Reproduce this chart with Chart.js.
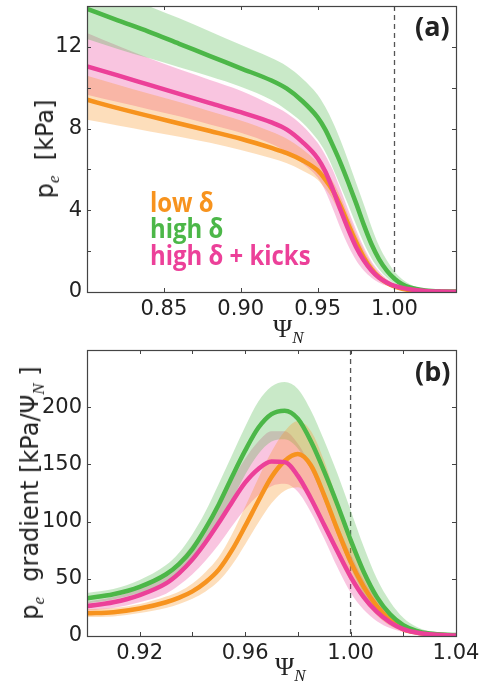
<!DOCTYPE html>
<html>
<head>
<meta charset="utf-8">
<script src="https://cdn.jsdelivr.net/npm/chart.js@4.4.1/dist/chart.umd.min.js"></script>
<style>
  body { margin: 0; background: #fff; width: 482px; height: 688px; position: relative; overflow: hidden; }
  canvas { position: absolute; left: 0; }
  .txt { position: absolute; white-space: nowrap; color: #222; line-height: 1; }
  .ytitle { font-family: 'DejaVu Sans'; font-size: 24px; transform: translate(-50%, -50%) rotate(-90deg); }
  .ysub { font-family: 'Liberation Serif'; font-style: italic; font-size: 17px; position: relative; top: 6px; }
  .xtitle { font-family: 'Liberation Serif'; font-size: 26px; }
  .xsub { font-family: 'Liberation Serif'; font-style: italic; font-size: 17px; position: relative; top: 6px; }
  .leg { font-family: 'Open Sans'; font-weight: bold; font-size: 26px; transform: scaleX(0.92); transform-origin: left center; }
  .tag { font-family: 'Open Sans'; font-weight: bold; font-size: 27px; }
</style>
</head>
<body>
<canvas id="chart-a" width="482" height="344" style="top:0"></canvas>
<canvas id="chart-b" width="482" height="344" style="top:344px"></canvas>

<div class="txt ytitle" style="left:45px; top:149px;">p<span class="ysub">e</span>&nbsp;&nbsp;[kPa]</div>
<div class="txt ytitle" style="left:30px; top:493px;">p<span class="ysub">e</span>&nbsp;&nbsp;gradient [kPa/&Psi;<span class="ysub">N</span>&nbsp;]</div>
<div class="txt xtitle" style="left:273px; top:316px;">&Psi;<span class="xsub">N</span></div>
<div class="txt xtitle" style="left:275px; top:654px;">&Psi;<span class="xsub">N</span></div>

<div class="txt leg" style="left:150px; top:189px; color:#f7931e;">low δ</div>
<div class="txt leg" style="left:150px; top:215px; color:#4cb748;">high δ</div>
<div class="txt leg" style="left:150px; top:242px; color:#ec4099;">high δ + kicks</div>

<div class="txt tag" style="left:415px; top:12px;">(a)</div>
<div class="txt tag" style="left:415px; top:357px;">(b)</div>

<script>
// ---- panel (a): p_e profile ----
const psiA = [0.80, 0.82, 0.84, 0.86, 0.88, 0.90, 0.92, 0.93, 0.94, 0.95, 0.955, 0.96, 0.965, 0.97, 0.975, 0.98, 0.985, 0.99, 0.995, 1.00, 1.005, 1.01, 1.02, 1.03, 1.04];
const lowA    = [9.41, 9.0, 8.62, 8.25, 7.88, 7.5, 7.05, 6.8, 6.45, 5.95, 5.5, 4.95, 4.2, 3.3, 2.45, 1.7, 1.12, 0.72, 0.45, 0.27, 0.16, 0.09, 0.03, 0.01, 0];
const lowAUp  = [10.59, 10.15, 9.72, 9.3, 8.85, 8.4, 7.85, 7.5, 7.0, 6.35, 5.95, 5.4, 4.65, 3.75, 2.85, 2.05, 1.4, 0.9, 0.57, 0.36, 0.22, 0.13, 0.04, 0.01, 0];
const lowALo  = [8.43, 8.15, 7.87, 7.6, 7.3, 6.95, 6.55, 6.3, 5.95, 5.5, 5.05, 4.5, 3.75, 2.9, 2.1, 1.42, 0.9, 0.55, 0.33, 0.19, 0.11, 0.06, 0.02, 0.01, 0];
const highA   = [13.86, 13.3, 12.75, 12.15, 11.55, 10.95, 10.35, 9.95, 9.35, 8.55, 7.95, 7.15, 6.3, 5.35, 4.35, 3.3, 2.35, 1.6, 1.05, 0.65, 0.38, 0.22, 0.08, 0.03, 0.02];
const highAUp = [15.3, 14.65, 14.0, 13.4, 12.75, 12.1, 11.45, 11.05, 10.45, 9.65, 9.05, 8.3, 7.4, 6.4, 5.35, 4.3, 3.2, 2.25, 1.55, 1.0, 0.62, 0.38, 0.14, 0.05, 0.02];
const highALo = [12.38, 11.9, 11.45, 11.0, 10.55, 10.05, 9.4, 8.9, 8.3, 7.45, 6.85, 6.05, 5.15, 4.25, 3.3, 2.4, 1.65, 1.1, 0.7, 0.42, 0.24, 0.13, 0.04, 0.01, 0];
const kickA   = [11.04, 10.6, 10.15, 9.7, 9.25, 8.8, 8.3, 7.95, 7.35, 6.55, 5.9, 5.0, 4.0, 3.05, 2.2, 1.55, 1.05, 0.7, 0.47, 0.3, 0.2, 0.13, 0.05, 0.02, 0.01];
const kickAUp = [12.68, 12.05, 11.45, 10.9, 10.38, 9.85, 9.15, 8.75, 8.15, 7.3, 6.7, 5.95, 5.0, 4.0, 3.05, 2.2, 1.5, 1.0, 0.65, 0.42, 0.28, 0.18, 0.07, 0.03, 0.02];
const kickALo = [9.66, 9.3, 8.95, 8.6, 8.2, 7.8, 7.25, 6.85, 6.3, 5.6, 4.95, 4.05, 3.1, 2.25, 1.55, 1.05, 0.7, 0.45, 0.3, 0.18, 0.11, 0.07, 0.02, 0.01, 0];
const xMarksA  = [0.85, 0.90, 0.95, 1.00];
const xLabelsA = [0.85, 0.90, 0.95, 1.00];
const yMarksA  = [0, 2, 4, 6, 8, 10, 12, 14];
const yLabelsA = [0, 4, 8, 12];

// ---- panel (b): p_e gradient ----
const psiB = [0.90, 0.91, 0.92, 0.93, 0.935, 0.94, 0.945, 0.95, 0.955, 0.96, 0.965, 0.97, 0.975, 0.98, 0.985, 0.99, 0.995, 1.00, 1.005, 1.01, 1.015, 1.02, 1.025, 1.03, 1.04];
const lowB    = [19.8, 20.8, 24, 29.5, 33.5, 39, 47, 58, 75, 96, 118, 139, 153, 159, 149, 123, 93, 65, 43, 26, 14, 6, 3, 1.5, 0.5];
const lowBUp  = [23.5, 24.5, 28, 34.5, 39, 46, 56, 69, 89, 113, 138, 161, 179, 188, 179, 153, 118, 85, 56, 34, 19, 9, 4.5, 2, 0.7];
const lowBLo  = [16.5, 17, 20, 24.5, 28, 32.5, 39, 48, 62, 80, 99, 116, 127, 130, 119, 96, 70, 48, 31, 18, 9, 4, 2, 1, 0.3];
const highB   = [33, 36.5, 43, 54, 63, 76, 94, 115, 139, 162, 182, 194, 197, 190, 170, 144, 115, 84, 56, 34, 19, 9.5, 4.5, 2.2, 0.8];
const highBUp = [37.5, 41, 49, 62, 73, 89, 109, 133, 158, 183, 205, 218, 222, 216, 197, 171, 142, 110, 78, 50, 30, 16, 8, 4, 1.5];
const highBLo = [28.5, 32, 37.5, 46, 53.5, 64, 79, 97, 119, 141, 159, 170, 172, 164, 145, 118, 88, 60, 37, 20, 10, 4.5, 2, 1, 0.3];
const kickB   = [26.2, 29.5, 35.8, 46, 55, 67, 82, 99, 117, 134, 146, 152.5, 152, 140, 120, 97, 74, 52, 34, 21, 12, 6, 3, 1.5, 0.5];
const kickBUp = [30, 34, 42, 55, 66, 80, 97, 116, 136, 155, 170, 179, 179, 168, 148, 123, 97, 72, 49, 31, 18, 9, 4.5, 2, 0.7];
const kickBLo = [22, 24.5, 29.5, 37, 44.5, 54, 66, 80, 96, 111, 123, 131, 133, 126, 108, 85, 60, 38, 23, 13, 7, 3.5, 1.5, 0.8, 0.3];
const xMarksB  = [0.92, 0.94, 0.96, 0.98, 1.00, 1.02, 1.04];
const xLabelsB = [0.92, 0.96, 1.00, 1.04];
const yMarksB  = [0, 50, 100, 150, 200, 250];
const yLabelsB = [0, 50, 100, 150, 200];

const separatrix = 1.00;

const ORANGE = [247, 147, 30];
const GREEN = [76, 183, 72];
const PINK = [236, 64, 153];

const rgba = (c, a) => `rgba(${c[0]},${c[1]},${c[2]},${a})`;
const pts = (xs, ys) => xs.map((x, i) => ({ x: x, y: ys[i] }));
const has = (list, v) => list.some(l => Math.abs(l - v) < 1e-9);

function buildDatasets(xs, series) {
    const sets = [];
    // shaded uncertainty bands first: upper fills down to the lower one
    series.forEach(s => {
        sets.push({
            data: pts(xs, s.up), borderWidth: 0, borderColor: 'transparent', pointRadius: 0,
            cubicInterpolationMode: 'monotone', fill: '+1', backgroundColor: rgba(s.color, 0.3), order: 10
        });
        sets.push({
            data: pts(xs, s.lo), borderWidth: 0, borderColor: 'transparent', pointRadius: 0,
            cubicInterpolationMode: 'monotone', fill: false, order: 10
        });
    });
    series.forEach(s => {
        sets.push({
            data: pts(xs, s.mid), borderWidth: 4.5, borderColor: rgba(s.color, 1), pointRadius: 0,
            cubicInterpolationMode: 'monotone', fill: false, order: s.order
        });
    });
    return sets;
}

// box, inward ticks on all four sides and the dashed separatrix line
const frame = {
    id: 'frame',
    beforeDatasetsDraw(chart) {
        const { ctx, chartArea: a } = chart;
        const px = chart.scales.x.getPixelForValue(separatrix);
        ctx.save();
        ctx.strokeStyle = '#555';
        ctx.lineWidth = 1.3;
        ctx.setLineDash([5, 4]);
        ctx.beginPath();
        ctx.moveTo(px, a.top);
        ctx.lineTo(px, a.bottom);
        ctx.stroke();
        ctx.restore();
    },
    afterDatasetsDraw(chart) {
        const { ctx, chartArea: a, scales } = chart;
        const len = 4;
        ctx.save();
        ctx.strokeStyle = '#444';
        ctx.lineWidth = 1;
        ctx.beginPath();
        scales.x.ticks.forEach(t => {
            const p = Math.round(scales.x.getPixelForValue(t.value)) + 0.5;
            ctx.moveTo(p, a.bottom); ctx.lineTo(p, a.bottom - len);
            ctx.moveTo(p, a.top); ctx.lineTo(p, a.top + len);
        });
        scales.y.ticks.forEach(t => {
            const p = Math.round(scales.y.getPixelForValue(t.value)) + 0.5;
            ctx.moveTo(a.left, p); ctx.lineTo(a.left + len, p);
            ctx.moveTo(a.right, p); ctx.lineTo(a.right - len, p);
        });
        ctx.stroke();
        ctx.lineWidth = 1.2;
        ctx.strokeRect(Math.round(a.left) + 0.5, Math.round(a.top) + 0.5,
            Math.round(a.right - a.left), Math.round(a.bottom - a.top));
        ctx.restore();
    }
};

function makeChart(id, xs, series, xr, yr, xMarks, xLabels, yMarks, yLabels, xFmt) {
    const tickFont = { family: 'DejaVu Sans', size: 21 };
    return new Chart(document.getElementById(id), {
        type: 'line',
        data: { datasets: buildDatasets(xs, series) },
        plugins: [frame],
        options: {
            responsive: false,
            animation: false,
            devicePixelRatio: 1,
            layout: { padding: { top: 6, right: 26, left: 0, bottom: 0 } },
            plugins: { legend: { display: false }, tooltip: { enabled: false } },
            scales: {
                x: {
                    type: 'linear', min: xr[0], max: xr[1],
                    grid: { display: false, drawTicks: false },
                    border: { display: false },
                    afterBuildTicks: s => { s.ticks = xMarks.map(v => ({ value: v })); },
                    afterFit: s => { s.height = 52; s.paddingLeft = 0; s.paddingRight = 0; },
                    ticks: {
                        autoSkip: false, maxRotation: 0, padding: 5, color: '#222', font: tickFont,
                        callback: v => has(xLabels, v) ? xFmt(v) : ''
                    }
                },
                y: {
                    type: 'linear', min: yr[0], max: yr[1],
                    grid: { display: false, drawTicks: false },
                    border: { display: false },
                    afterBuildTicks: s => { s.ticks = yMarks.map(v => ({ value: v })); },
                    afterFit: s => { s.width = 87; s.paddingTop = 0; s.paddingBottom = 0; },
                    ticks: {
                        autoSkip: false, padding: 5, color: '#222', font: tickFont,
                        callback: v => has(yLabels, v) ? String(v) : ''
                    }
                }
            }
        }
    });
}

document.addEventListener('DOMContentLoaded', function() {
    makeChart('chart-a', psiA, [
        { mid: lowA, up: lowAUp, lo: lowALo, color: ORANGE, order: 3 },
        { mid: highA, up: highAUp, lo: highALo, color: GREEN, order: 2 },
        { mid: kickA, up: kickAUp, lo: kickALo, color: PINK, order: 1 }
    ], [0.80, 1.04], [0, 14], xMarksA, xLabelsA, yMarksA, yLabelsA, v => v.toFixed(2));

    makeChart('chart-b', psiB, [
        { mid: lowB, up: lowBUp, lo: lowBLo, color: ORANGE, order: 3 },
        { mid: highB, up: highBUp, lo: highBLo, color: GREEN, order: 2 },
        { mid: kickB, up: kickBUp, lo: kickBLo, color: PINK, order: 1 }
    ], [0.90, 1.04], [0, 250], xMarksB, xLabelsB, yMarksB, yLabelsB, v => v.toFixed(2));
});
</script>
</body>
</html>
